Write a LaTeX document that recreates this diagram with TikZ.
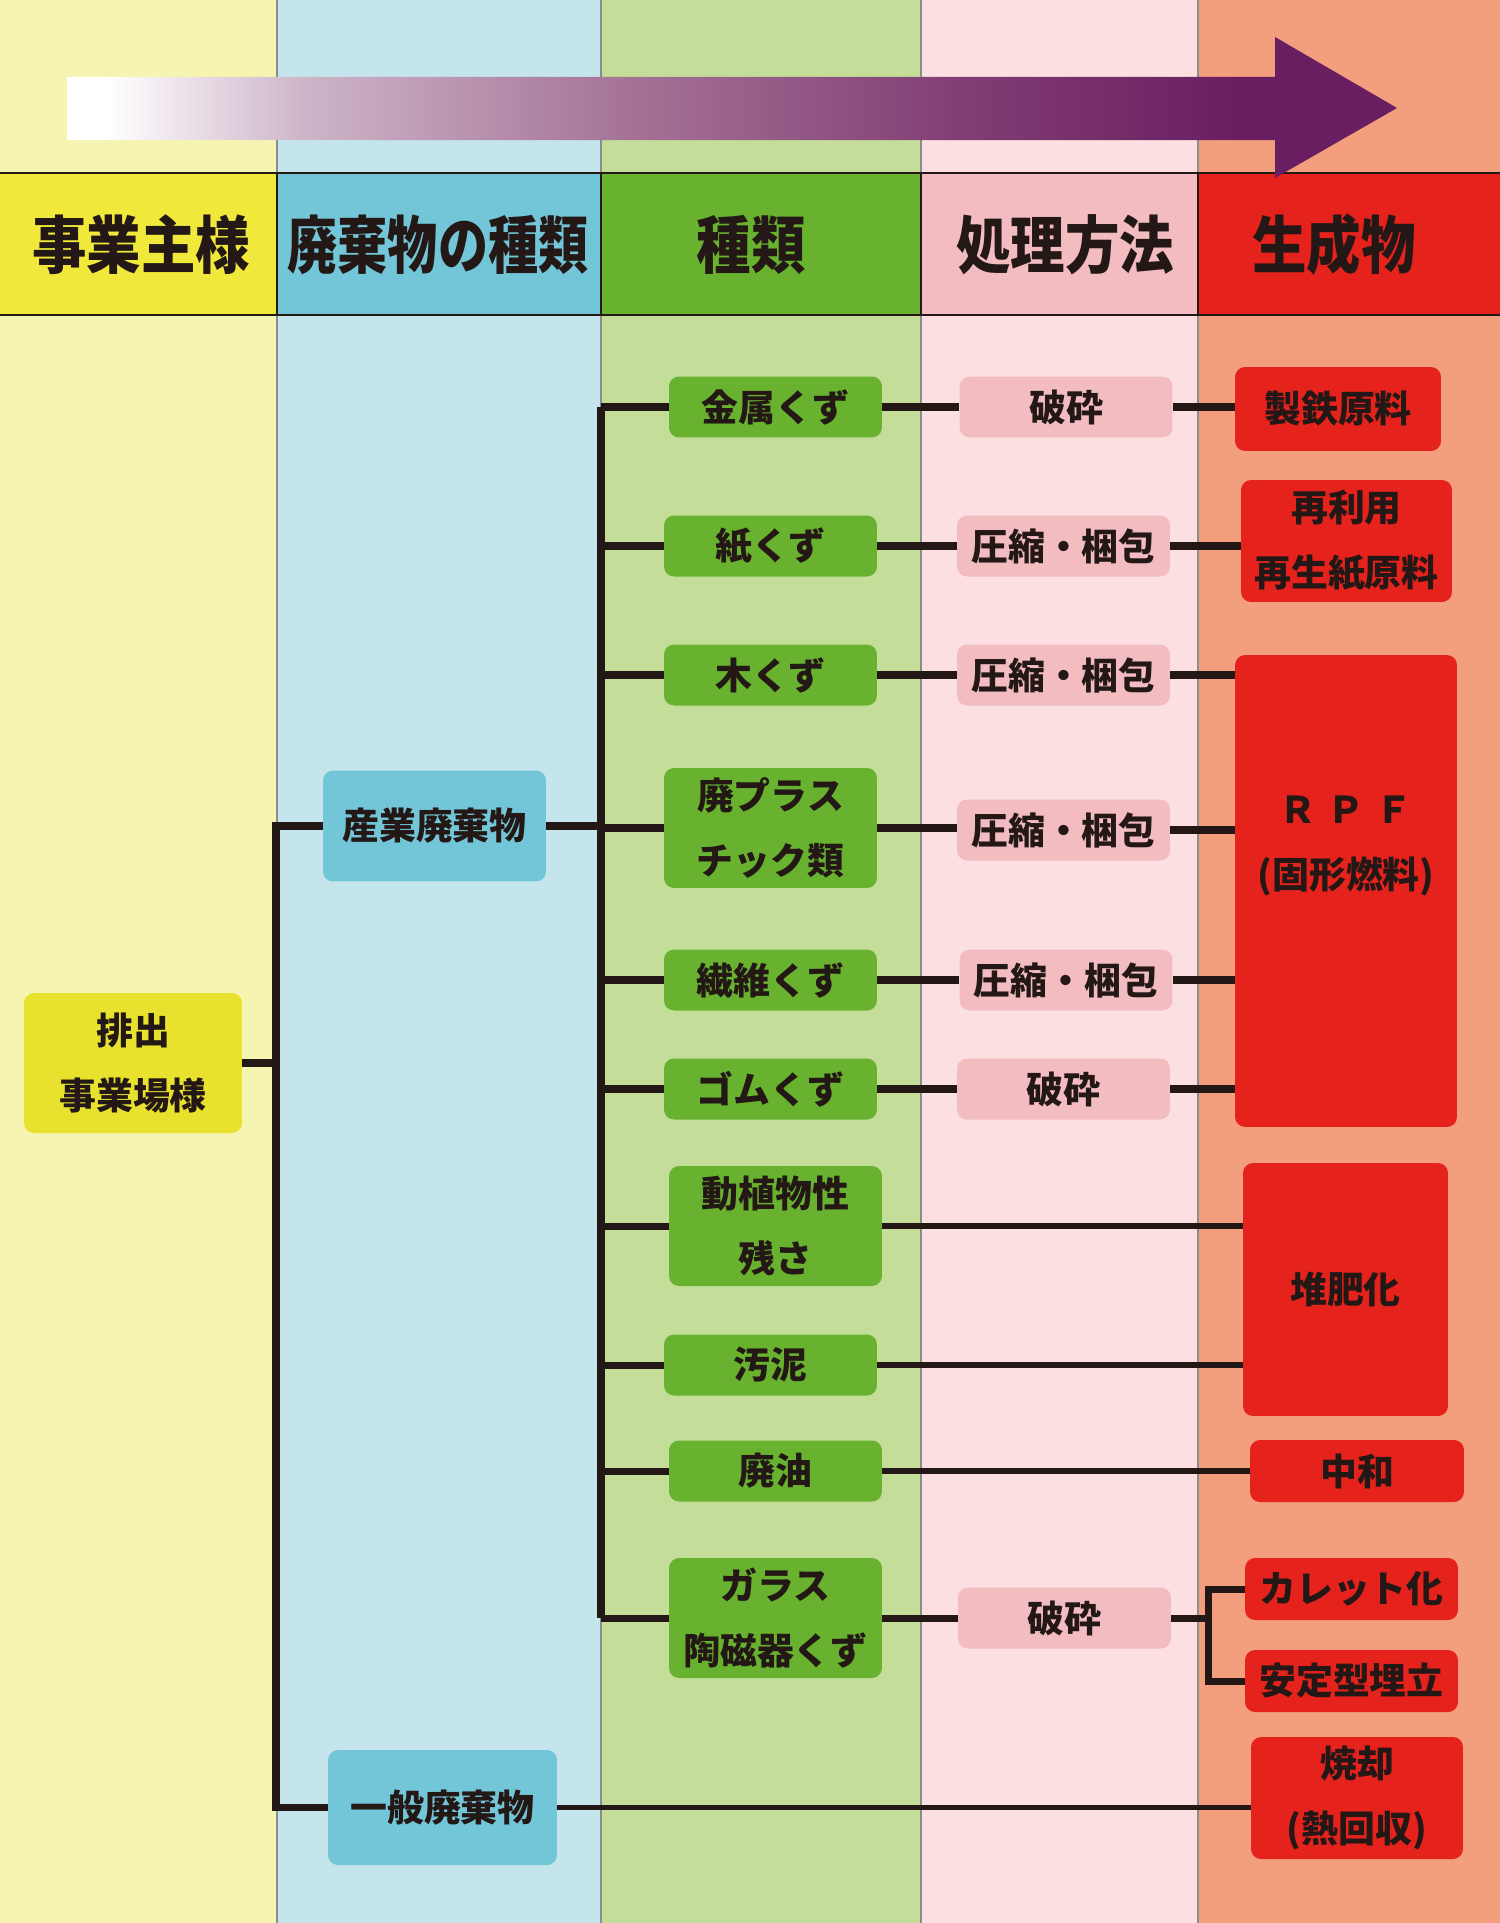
\documentclass[tikz,border=0pt]{standalone}
\usepackage{fontspec}
\setmainfont{Noto Sans CJK JP}
\definecolor{bgYellow}{RGB}{245,244,176}
\definecolor{headYellow}{RGB}{240,232,58}
\definecolor{boxYellow}{RGB}{232,226,46}
\definecolor{bgBlue}{RGB}{197,229,236}
\definecolor{headBlue}{RGB}{115,198,215}
\definecolor{bgGreen}{RGB}{196,222,154}
\definecolor{headGreen}{RGB}{105,178,47}
\definecolor{bgPink}{RGB}{252,224,225}
\definecolor{headPink}{RGB}{242,188,192}
\definecolor{bgSalmon}{RGB}{243,159,126}
\definecolor{headRed}{RGB}{230,34,29}
\definecolor{arrowPurple}{RGB}{106,30,98}
\definecolor{arrowMauveA}{RGB}{205,180,200}
\definecolor{arrowMauveB}{RGB}{165,115,150}
\definecolor{arrowMauveC}{RGB}{128,60,115}
\definecolor{lineBlack}{RGB}{35,24,21}
\pgfdeclarehorizontalshading{arrowfade}{100bp}{color(0bp)=(white); color(26.5bp)=(white);
  color(34bp)=(arrowMauveA); color(46bp)=(arrowMauveB); color(59bp)=(arrowMauveC);
  color(69bp)=(arrowPurple); color(100bp)=(arrowPurple)}
\newcommand\bodyfont{\fontsize{21}{37}\selectfont\bfseries}
\newcommand\headfont{\fontsize{31}{36}\selectfont\bfseries}
\newcommand\hdtext[2][1]{\scalebox{#1}[1.15]{#2}}
\tikzset{
  box/.style={rounded corners=0.2cm, inner sep=0pt, align=center, font=\bodyfont, text=lineBlack},
  yellowbox/.style={box, fill=boxYellow},
  bluebox/.style={box, fill=headBlue},
  greenbox/.style={box, fill=headGreen, minimum width=4.26cm, minimum height=1.22cm},
  pinkbox/.style={box, fill=headPink, minimum width=4.26cm, minimum height=1.22cm},
  redbox/.style={box, fill=headRed},
  headtext/.style={font=\headfont, text=lineBlack, inner sep=0pt},
  conn/.style={line width=4pt, lineBlack},
  longconn/.style={line width=3pt, lineBlack}
}
\begin{document}
\begin{tikzpicture}[x=0.02cm, y=-0.02cm]
\useasboundingbox (0,0) rectangle (1500,1923);
% columns
\fill[bgYellow] (0,0) rectangle (277,1923);
\fill[bgBlue] (277,0) rectangle (601,1923);
\fill[bgGreen] (601,0) rectangle (921,1923);
\fill[bgPink] (921,0) rectangle (1198,1923);
\fill[bgSalmon] (1198,0) rectangle (1500,1923);
\fill[headYellow] (0,173) rectangle (277,315);
\fill[headBlue] (277,173) rectangle (601,315);
\fill[headGreen] (601,173) rectangle (921,315);
\fill[headPink] (921,173) rectangle (1198,315);
\fill[headRed] (1198,173) rectangle (1500,315);
\foreach \x in {277,601,921,1198}
  \draw[black!45, line width=0.6pt] (\x,0) -- (\x,1923);
\draw[lineBlack, line width=0.8pt] (0,173) -- (1500,173) (0,315) -- (1500,315);
\foreach \x in {277,601,921,1198}
  \draw[lineBlack, line width=0.6pt] (\x,173) -- (\x,315);
% arrow
\shade[shading=arrowfade]
  (67,77) -- (1275,77) -- (1275,37) -- (1397,108) -- (1275,178) -- (1275,140) -- (67,140) -- cycle;
% headers
\node[headtext] (hOwner) at (141,245) {\hdtext{事業主様}};
\node[headtext] (hWaste) at (438,245) {\hdtext[0.92]{廃棄物の種類}};
\node[headtext] (hKind) at (751,245) {\hdtext{種類}};
\node[headtext] (hMethod) at (1065,245) {\hdtext{処理方法}};
\node[headtext] (hProduct) at (1334,245) {\hdtext{生成物}};

% boxes
\node[yellowbox, minimum width=4.36cm, minimum height=2.8cm] (haishutsu) at (133,1063) {排出\\事業場様};
\node[bluebox, minimum width=4.46cm, minimum height=2.22cm] (sangyo) at (434.5,826) {産業廃棄物};
\node[bluebox, minimum width=4.58cm, minimum height=2.3cm] (ippan) at (442.5,1807.5) {一般廃棄物};

\node[greenbox] (kinzoku) at (775.5,407) {金属くず};
\node[greenbox] (kami) at (770.5,546) {紙くず};
\node[greenbox] (moku) at (770.5,675) {木くず};
\node[greenbox, minimum height=2.4cm] (pura) at (770.5,828) {廃プラス\\チック類};
\node[greenbox] (seni) at (770.5,980) {繊維くず};
\node[greenbox] (gomu) at (770.5,1089) {ゴムくず};
\node[greenbox, minimum height=2.4cm] (doushoku) at (775.5,1226) {動植物性\\残さ};
\node[greenbox] (odei) at (770.5,1365) {汚泥};
\node[greenbox] (haiyu) at (775.5,1471) {廃油};
\node[greenbox, minimum height=2.4cm] (garasu) at (775.5,1618) {ガラス\\陶磁器くず};

\node[pinkbox] (hasai1) at (1066,407) {破砕};
\node[pinkbox] (asshuku1) at (1063.5,546) {圧縮・梱包};
\node[pinkbox] (asshuku2) at (1063.5,675) {圧縮・梱包};
\node[pinkbox] (asshuku3) at (1063.5,830) {圧縮・梱包};
\node[pinkbox] (asshuku4) at (1066,980) {圧縮・梱包};
\node[pinkbox] (hasai2) at (1063.5,1089) {破砕};
\node[pinkbox] (hasai3) at (1064.5,1618) {破砕};

\node[redbox, minimum width=4.12cm, minimum height=1.68cm] (seitetsu) at (1338,409) {製鉄原料};
\node[redbox, minimum width=4.22cm, minimum height=2.44cm] (saiseishi) at (1346.5,541) {再利用\\再生紙原料};
\node[redbox, minimum width=4.44cm, minimum height=9.44cm] (rpf) at (1346,891) {};
\node[box] (rpftext) at (1346,846) {Ｒ\hspace{0.3em}Ｐ\hspace{0.3em}Ｆ\\(固形燃料)};
\node[redbox, minimum width=4.1cm, minimum height=5.06cm] (taihi) at (1345.5,1289.5) {堆肥化};
\node[redbox, minimum width=4.28cm, minimum height=1.24cm] (chuwa) at (1357,1471) {中和};
\node[redbox, minimum width=4.26cm, minimum height=1.24cm] (cullet) at (1351.5,1589) {カレット化};
\node[redbox, minimum width=4.26cm, minimum height=1.24cm] (antei) at (1351.5,1681) {安定型埋立};
\node[redbox, minimum width=4.24cm, minimum height=2.44cm] (shoukyaku) at (1357,1798) {焼却\\(熱回収)};

% connectors
\coordinate (trunkA) at (276,0);
\coordinate (trunkB) at (601,0);
\coordinate (fork) at (1208,1618);
\draw[conn] (haishutsu.east) -- (haishutsu.east -| trunkA);
\draw[conn] (sangyo.west) -| (trunkA |- ippan.west) -- (ippan.west);
\draw[conn] (sangyo.east) -- (sangyo.east -| trunkB);
\draw[conn] (trunkB |- kinzoku.west) -- (trunkB |- garasu.west);
\foreach \n in {kinzoku,kami,moku,pura,seni,gomu,doushoku,odei,haiyu,garasu}
  \draw[conn] (trunkB |- \n.west) -- (\n.west);
\draw[conn] (kinzoku.east) -- (kinzoku.east -| hasai1.west);
\draw[conn] (kami.east) -- (kami.east -| asshuku1.west);
\draw[conn] (moku.east) -- (moku.east -| asshuku2.west);
\draw[conn] (pura.east) -- (pura.east -| asshuku3.west);
\draw[conn] (seni.east) -- (seni.east -| asshuku4.west);
\draw[conn] (gomu.east) -- (gomu.east -| hasai2.west);
\draw[conn] (garasu.east) -- (garasu.east -| hasai3.west);
\draw[conn] (hasai1.east) -- (hasai1.east -| seitetsu.west);
\draw[conn] (asshuku1.east) -- (asshuku1.east -| saiseishi.west);
\foreach \n in {asshuku2,asshuku3,asshuku4,hasai2}
  \draw[conn] (\n.east) -- (\n.east -| rpf.west);
\draw[longconn] (doushoku.east) -- (doushoku.east -| taihi.west);
\draw[longconn] (odei.east) -- (odei.east -| taihi.west);
\draw[longconn] (haiyu.east) -- (haiyu.east -| chuwa.west);
\draw[longconn] (ippan.east) -- (ippan.east -| shoukyaku.west);
\draw[conn] (hasai3.east) -- (fork);
\draw[conn] (cullet.west) -| (fork) |- (antei.west);
\end{tikzpicture}
\end{document}
